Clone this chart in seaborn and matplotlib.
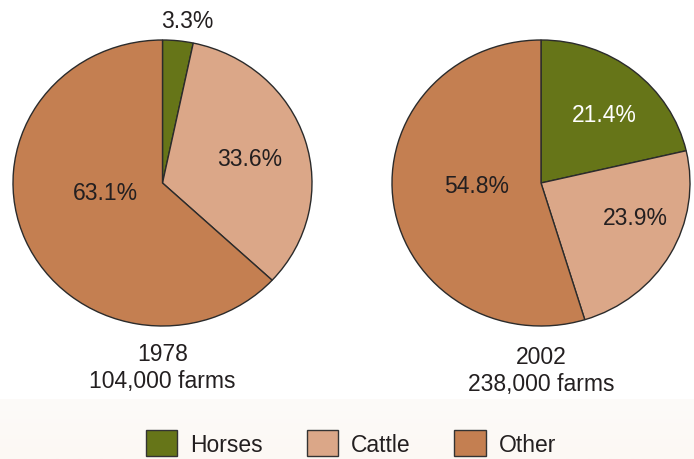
import numpy as np
import matplotlib
matplotlib.use('Agg')
import matplotlib.pyplot as plt
from matplotlib.patches import Patch
import seaborn as sns

sns.set_theme(style='white')
plt.rcParams['font.family'] = ['Liberation Sans', 'DejaVu Sans']

# data
categories = ['Horses', 'Cattle', 'Other']
share_1978 = [3.3, 33.6, 63.1]
share_2002 = [21.4, 23.9, 54.8]
years = ['1978', '2002']
farms = ['104,000 farms', '238,000 farms']

colors = ['#667518', '#dba788', '#c47f51']
text_colors = [['#231f20', '#231f20', '#231f20'], ['white', '#231f20', '#231f20']]
# label placement: radius and angle nudge (deg) per wedge
label_r = [[1.15, 0.61, 0.39], [0.64, 0.68, 0.43]]
label_da = [[-2.5, -1, -14], [-3, 9, -6]]

W, H = 694, 460
fig = plt.figure(figsize=(W / 100, H / 100), dpi=100)

# very light band behind the legend (slight vertical gradient)
bg = fig.add_axes([0, 0, 1, 60 / H], zorder=-1)
top = np.array([0xfd, 0xfb, 0xf9]) / 255
bot = np.array([0xfc, 0xf8, 0xf4]) / 255
t = np.linspace(0, 1, 60)[:, None]
img = (top * (1 - t) + bot * t)[:, None, :]
bg.imshow(img, aspect='auto', extent=[0, 1, 0, 1], origin='upper', interpolation='bilinear')
bg.axis('off')

# pie boxes in pixels: left, top, width, height
boxes = [(13, 41, 299, 286), (392, 41, 298, 286)]
cap_y = [368, 371]

for i, vals in enumerate([share_1978, share_2002]):
    l, tp, w, h = boxes[i]
    ax = fig.add_axes([l / W, 1 - (tp + h) / H, w / W, h / H])
    wedges, _ = ax.pie(vals, colors=colors, startangle=90, counterclock=False,
                       radius=1, wedgeprops=dict(edgecolor='#2b2b2b', linewidth=1))
    ax.set_aspect('auto')
    ax.set_xlim(-1, 1)
    ax.set_ylim(-1, 1)
    ax.axis('off')
    # percent labels
    start = 90.0
    for j, v in enumerate(vals):
        mid = np.deg2rad(start - v * 3.6 / 2 + label_da[i][j])
        start -= v * 3.6
        r = label_r[i][j]
        ax.text(r * np.cos(mid), r * np.sin(mid), f'{v:.1f}%', ha='center', va='center',
                fontsize=16.5, color=text_colors[i][j], clip_on=False)
    cx = (l + w / 2) / W
    fig.text(cx, 1 - cap_y[i] / H, f'{years[i]}\n{farms[i]}', ha='center', va='center',
             fontsize=16.5, color='#231f20', linespacing=1.2)

handles = [Patch(facecolor=c, edgecolor='#333333', linewidth=1) for c in colors]
fig.legend(handles, categories, ncol=3, loc='center', bbox_to_anchor=(351 / W, 16 / H),
           frameon=False, fontsize=16.5, handlelength=1.37, handleheight=1.4,
           handletextpad=0.57, columnspacing=1.9, borderpad=0, labelcolor='#231f20')

fig.savefig('out.png', dpi=100)
